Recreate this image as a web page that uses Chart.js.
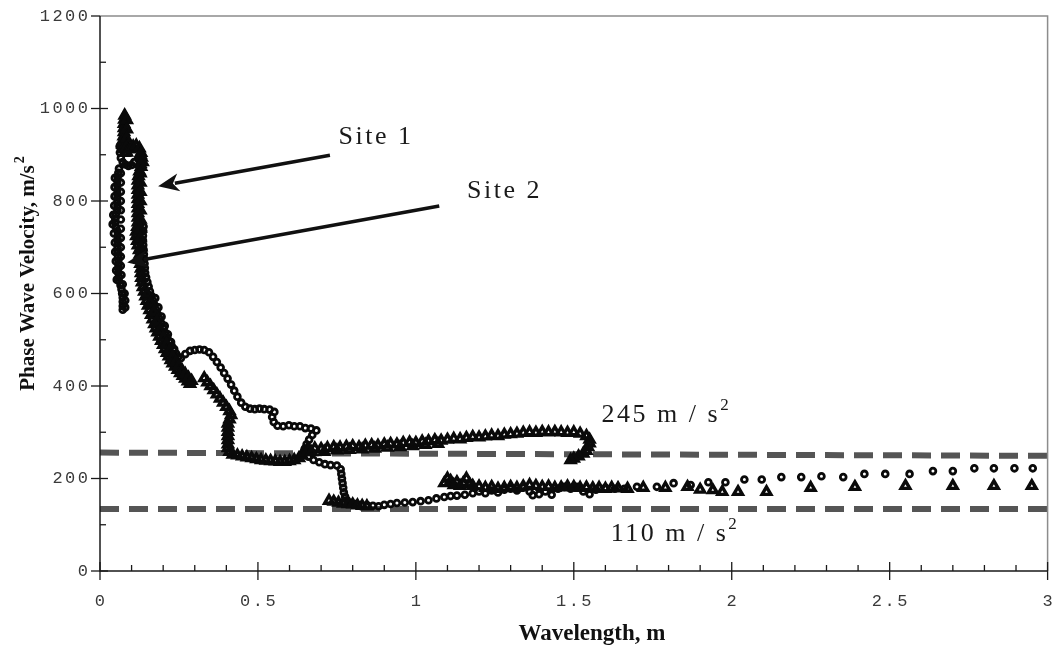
<!DOCTYPE html>
<html>
<head>
<meta charset="utf-8">
<script src="https://cdn.jsdelivr.net/npm/chart.js@4.4.1/dist/chart.umd.min.js"></script>
<style>
  html, body { margin: 0; background: #fff; }
  #wrap { width: 1056px; height: 655px; }
</style>
</head>
<body>
<div id="wrap"><canvas id="chart"></canvas></div>
<script>
// wavelength (m), phase velocity (m/s)
const site1Points = [
  [0.078,985],[0.077,976],[0.076,967],[0.076,958],[0.076,949],[0.075,940],[0.073,931],[0.072,922],[0.074,913],[0.078,904],
  [0.085,975],[0.085,955],[0.084,935],[0.083,915],
  [0.085,905],[0.095,912],[0.105,918],[0.115,920],[0.125,914],[0.13,904],[0.132,894],[0.135,884],[0.13,874],[0.125,864],
  [0.122,854],[0.12,844],[0.12,834],[0.12,824],[0.12,814],[0.12,804],[0.12,794],[0.12,784],[0.12,774],[0.12,764],
  [0.12,754],[0.118,744],[0.115,734],[0.115,724],[0.118,714],[0.12,704],[0.124,694],[0.126,684],[0.127,674],[0.128,664],
  [0.128,900],[0.128,880],[0.128,860],[0.128,840],[0.128,820],[0.128,800],[0.128,780],[0.128,760],[0.128,740],[0.128,720],[0.13,700],
  [0.13,654],[0.13,644],[0.131,634],[0.133,624],[0.136,614],[0.14,604],[0.144,594],[0.148,584],[0.152,574],[0.157,564],
  [0.162,554],[0.167,544],[0.172,534],[0.177,525],[0.182,516],[0.188,507],[0.194,498],[0.2,489],[0.206,480],[0.212,472],
  [0.218,464],[0.224,456],[0.23,449],[0.238,442],[0.246,435],[0.254,428],[0.262,422],[0.27,416],[0.278,410],[0.285,405],
  [0.15,600],[0.16,580],[0.17,560],[0.18,540],[0.19,520],[0.2,505],[0.21,490],[0.22,476],[0.23,463],[0.24,452],
  [0.25,443],[0.26,434],[0.27,426],[0.28,418],[0.29,411],
  [0.33,417],[0.34,408],[0.35,400],[0.36,391],[0.37,382],[0.38,373],[0.39,364],[0.4,355],[0.41,346],[0.415,337],
  [0.41,328],[0.405,319],[0.405,310],[0.405,301],[0.405,292],[0.405,283],[0.405,274],[0.405,266],[0.41,258],[0.42,252],
  [0.435,250],[0.45,248],[0.465,246],[0.48,244],[0.495,242],[0.51,240],[0.525,239],[0.54,238],[0.555,237],[0.57,236],
  [0.585,236],[0.6,238],[0.615,240],[0.63,244],[0.64,250],[0.645,258],[0.655,262],
  [0.66,263],[0.68,265],[0.70,264],[0.72,266],[0.74,268],[0.76,267],[0.78,269],[0.80,270],[0.82,268],[0.84,271],
  [0.86,272],[0.88,271],[0.90,274],[0.92,275],[0.94,274],[0.96,277],[0.98,278],[1.00,277],[1.02,280],[1.04,281],
  [1.06,283],[1.08,282],[1.10,284],[1.12,286],[1.14,285],[1.16,288],[1.18,290],[1.20,289],[1.22,291],[1.24,293],
  [1.26,292],[1.28,295],[1.30,296],[1.32,297],[1.34,299],[1.36,300],[1.38,299],[1.40,301],[1.42,300],[1.44,301],
  [1.46,300],[1.48,299],[1.50,300],[1.52,297],[1.54,292],[1.55,284],[1.55,276],[1.545,268],[1.54,260],[1.53,254],
  [1.515,248],[1.50,243],[1.49,240],
  [0.67,257],[0.71,258],[0.75,261],[0.79,262],[0.83,263],[0.87,265],[0.91,267],[0.95,268],[0.99,270],[1.03,273],[1.07,275],
  [0.725,152],[0.74,150],[0.755,148],[0.77,146],[0.785,145],[0.8,144],[0.815,142],[0.83,141],[0.845,140],
  [1.09,190],[1.1,200],[1.11,195],[1.12,186],[1.13,192],[1.14,184],[1.15,190],[1.16,200],[1.17,188],[1.18,184],
  [1.2,183],[1.22,180],[1.24,182],[1.26,178],[1.28,180],[1.3,182],[1.32,180],[1.34,183],[1.36,186],[1.38,184],
  [1.4,182],[1.42,183],[1.44,180],[1.46,181],[1.48,183],[1.5,182],[1.52,180],[1.54,181],[1.56,179],[1.58,180],
  [1.6,178],[1.62,180],[1.64,179],[1.67,178],[1.72,180],[1.79,180],[1.86,182],[1.9,176],[1.94,175],[1.97,171],
  [2.02,171],[2.11,171],[2.25,180],[2.39,182],[2.55,184],[2.7,184],[2.83,184],[2.95,184]
];

const site2Points = [
  [0.06,870],[0.058,861],[0.056,852],[0.055,843],[0.055,834],[0.055,825],[0.055,816],[0.055,807],[0.055,798],[0.055,789],
  [0.055,780],[0.05,771],[0.048,762],[0.048,753],[0.05,744],[0.055,735],[0.056,726],[0.056,717],[0.056,708],[0.056,699],
  [0.056,690],[0.057,681],[0.058,672],[0.058,663],[0.058,654],[0.058,645],[0.06,636],[0.06,627],[0.065,618],[0.068,609],
  [0.07,600],[0.072,591],[0.072,582],[0.072,573],[0.072,565],
  [0.066,860],[0.066,840],[0.066,820],[0.066,800],[0.066,780],[0.066,760],[0.066,740],[0.066,720],[0.066,700],[0.066,680],
  [0.066,660],[0.068,640],[0.072,620],[0.078,600],[0.08,585],[0.08,570],
  [0.047,850],[0.046,830],[0.046,810],[0.045,790],[0.042,770],[0.04,750],[0.044,730],[0.047,710],[0.048,690],[0.05,670],
  [0.051,650],[0.053,630],
  [0.062,918],[0.063,905],[0.066,893],[0.072,884],[0.08,879],[0.09,876],[0.1,878],[0.108,884],
  [0.138,745],[0.137,735],[0.136,725],[0.136,715],[0.137,705],[0.138,695],[0.139,685],[0.14,675],[0.141,665],[0.142,655],
  [0.143,645],[0.146,635],[0.15,625],[0.154,615],[0.158,605],[0.163,595],[0.168,585],[0.173,575],[0.178,565],[0.183,555],
  [0.189,545],[0.195,535],[0.201,525],[0.207,515],[0.213,505],[0.22,496],[0.227,487],[0.234,478],[0.241,470],[0.248,463],
  [0.175,590],[0.185,570],[0.195,550],[0.205,530],[0.215,512],[0.225,495],[0.235,480],
  [0.256,460],[0.27,469],[0.285,476],[0.3,478],[0.315,479],[0.33,478],[0.345,473],[0.358,463],[0.37,452],[0.382,440],
  [0.393,428],[0.404,416],[0.415,403],[0.425,390],[0.435,377],[0.447,364],[0.46,355],[0.475,351],[0.49,350],[0.505,351],
  [0.52,350],[0.537,349],[0.552,344],[0.545,333],[0.55,322],[0.562,314],[0.58,313],[0.598,315],[0.615,313],[0.633,313],
  [0.65,309],[0.668,308],[0.685,304],[0.672,294],[0.662,284],[0.654,274],[0.648,264],[0.646,255],[0.66,247],[0.676,240],
  [0.694,235],[0.712,231],[0.73,229],[0.75,228],[0.762,220],[0.764,210],[0.766,200],[0.768,190],[0.77,180],[0.772,170],
  [0.776,161],[0.782,153],[0.795,147],[0.81,145],[0.828,143],[0.846,142],[0.864,141],[0.882,140],[0.9,143],[0.92,145],
  [0.94,147],[0.965,148],[0.99,149],[1.015,151],[1.04,153],[1.065,157],[1.09,160],[1.11,162],[1.13,163],[1.155,165],
  [1.18,168],[1.2,172],[1.22,168],[1.24,174],[1.26,170],[1.28,176],[1.3,178],[1.32,174],[1.34,180],[1.36,172],
  [1.37,164],[1.39,166],[1.41,172],[1.43,165],[1.45,178],[1.47,182],[1.49,178],[1.51,182],[1.53,172],[1.55,166],
  [1.57,176],[1.6,180],[1.63,178],[1.66,178],[1.7,182],[1.763,182],[1.816,190],[1.87,186],[1.926,192],[1.98,192],
  [2.04,198],[2.095,198],[2.157,203],[2.22,203],[2.284,205],[2.353,203],[2.42,210],[2.486,210],[2.563,210],[2.637,216],
  [2.7,216],[2.768,222],[2.83,222],[2.895,222],[2.953,222]
];

// the two dashed reference levels as drawn
const upperLevel = [[0, 256], [3, 249]];
const lowerLevel = [[0, 134], [3, 134]];

const xTicks = [0, 0.5, 1, 1.5, 2, 2.5, 3];
const xTickLabels = ['0', '0.5', '1', '1.5', '2', '2.5', '3'];
const yTicks = [0, 200, 400, 600, 800, 1000, 1200];
const yTickLabels = ['0', '200', '400', '600', '800', '1000', '1200'];

// text notes and arrows, in data units
const notes = [
  { text: 'Site 1', sup: '', x: 0.755, y: 923 },
  { text: 'Site 2', sup: '', x: 1.162, y: 806 },
  { text: '245 m / s', sup: '2', x: 1.588, y: 323 },
  { text: '110 m / s', sup: '2', x: 1.617, y: 65 }
];
const arrows = [
  { from: [0.728, 899], to: [0.184, 832] },
  { from: [1.074, 789], to: [0.086, 667] }
];

const toXY = pts => pts.map(p => ({ x: p[0], y: p[1] }));

const SERIF = '"Liberation Serif", "DejaVu Serif", serif';
const MONO = '"Liberation Mono", "DejaVu Sans Mono", monospace';

function seg(ctx, x1, y1, x2, y2) {
  ctx.beginPath(); ctx.moveTo(x1, y1); ctx.lineTo(x2, y2); ctx.stroke();
}

const frame = {
  id: 'frame',
  afterDatasetsDraw(chart) {
    const { ctx, chartArea: a, scales: { x, y } } = chart;
    ctx.save();

    // box
    ctx.lineWidth = 1.5;
    ctx.strokeStyle = '#8c8c8c';
    ctx.beginPath(); ctx.moveTo(a.left, a.top); ctx.lineTo(a.right, a.top); ctx.lineTo(a.right, a.bottom); ctx.stroke();
    ctx.strokeStyle = '#1a1a1a';
    ctx.beginPath(); ctx.moveTo(a.left, a.top); ctx.lineTo(a.left, a.bottom); ctx.lineTo(a.right, a.bottom); ctx.stroke();

    // ticks
    ctx.lineWidth = 1.3;
    for (let v = 100; v < 1200; v += 200) {
      const p = y.getPixelForValue(v);
      seg(ctx, a.left, p, a.left + 6, p);
    }
    for (let i = 1; i < 30; i++) {
      if (i % 5 === 0) continue;
      const p = x.getPixelForValue(i / 10);
      seg(ctx, p, a.bottom, p, a.bottom - 6);
    }
    yTicks.forEach(v => {
      const p = y.getPixelForValue(v);
      seg(ctx, a.left - 9, p, a.left + (v === 1200 ? 0 : 8), p);
    });
    xTicks.forEach(v => {
      const p = x.getPixelForValue(v);
      seg(ctx, p, a.bottom + 9, p, a.bottom - 9);
    });

    // tick labels
    ctx.fillStyle = '#3a3a3a';
    ctx.font = '17px ' + MONO;
    ctx.letterSpacing = '2.5px';
    ctx.textBaseline = 'middle';
    ctx.textAlign = 'right';
    yTicks.forEach((v, i) => ctx.fillText(yTickLabels[i], a.left - 12 + 2.5, y.getPixelForValue(v)));
    ctx.textAlign = 'center';
    xTicks.forEach((v, i) => ctx.fillText(xTickLabels[i], x.getPixelForValue(v) + 1.2, a.bottom + 30));
    ctx.letterSpacing = '0px';

    // axis titles
    ctx.fillStyle = '#111';
    ctx.font = 'bold 23px ' + SERIF;
    ctx.textAlign = 'center';
    ctx.textBaseline = 'alphabetic';
    ctx.fillText('Wavelength, m', 592, 640);

    ctx.save();
    ctx.translate(34, 273);
    ctx.rotate(-Math.PI / 2);
    ctx.font = 'bold 21px ' + SERIF;
    const main = 'Phase Wave Velocity, m/s';
    const w = ctx.measureText(main).width;
    ctx.textAlign = 'left';
    ctx.fillText(main, -w / 2 - 5, 0);
    ctx.font = 'bold 14px ' + SERIF;
    ctx.fillText('2', w / 2 - 3, -10);
    ctx.restore();

    // notes
    ctx.fillStyle = '#1a1a1a';
    ctx.textAlign = 'left';
    notes.forEach(n => {
      const px = x.getPixelForValue(n.x), py = y.getPixelForValue(n.y);
      ctx.font = '26px ' + SERIF;
      ctx.letterSpacing = '2.5px';
      ctx.fillText(n.text, px, py);
      if (n.sup) {
        const tw = ctx.measureText(n.text).width;
        ctx.font = '17px ' + SERIF;
        ctx.letterSpacing = '0px';
        ctx.fillText(n.sup, px + tw, py - 12);
      }
    });
    ctx.letterSpacing = '0px';

    // arrows
    ctx.strokeStyle = '#111';
    ctx.fillStyle = '#111';
    ctx.lineWidth = 3.5;
    arrows.forEach(ar => {
      const x1 = x.getPixelForValue(ar.from[0]), y1 = y.getPixelForValue(ar.from[1]);
      const x2 = x.getPixelForValue(ar.to[0]), y2 = y.getPixelForValue(ar.to[1]);
      const ang = Math.atan2(y2 - y1, x2 - x1);
      const len = 21, half = 9;
      const bx = x2 - Math.cos(ang) * len, by = y2 - Math.sin(ang) * len;
      seg(ctx, x1, y1, x2 - Math.cos(ang) * (len - 4), y2 - Math.sin(ang) * (len - 4));
      ctx.beginPath();
      ctx.moveTo(x2, y2);
      ctx.lineTo(bx + Math.sin(ang) * half, by - Math.cos(ang) * half);
      ctx.lineTo(x2 - Math.cos(ang) * (len - 6), y2 - Math.sin(ang) * (len - 6));
      ctx.lineTo(bx - Math.sin(ang) * half, by + Math.cos(ang) * half);
      ctx.closePath();
      ctx.fill();
    });

    ctx.restore();
  }
};

new Chart(document.getElementById('chart'), {
  type: 'scatter',
  data: {
    datasets: [
      {
        label: 'Site 1',
        data: toXY(site1Points),
        pointStyle: 'triangle',
        pointRadius: 5,
        pointBorderWidth: 3.4,
        pointBorderColor: '#0a0a0a',
        pointBackgroundColor: 'rgba(255,255,255,0)'
      },
      {
        label: 'Site 2',
        data: toXY(site2Points),
        pointStyle: 'circle',
        pointRadius: 2.9,
        pointBorderWidth: 2.8,
        pointBorderColor: '#0a0a0a',
        pointBackgroundColor: 'rgba(255,255,255,0)'
      },
      {
        label: '245 m/s2',
        data: toXY(upperLevel),
        showLine: true,
        borderColor: '#555',
        borderWidth: 6,
        borderDash: [19, 10],
        borderCapStyle: 'butt',
        pointRadius: 0
      },
      {
        label: '110 m/s2',
        data: toXY(lowerLevel),
        showLine: true,
        borderColor: '#555',
        borderWidth: 6,
        borderDash: [19, 10],
        borderCapStyle: 'butt',
        pointRadius: 0
      }
    ]
  },
  options: {
    responsive: true,
    maintainAspectRatio: false,
    animation: false,
    events: [],
    layout: { padding: { left: 100, right: 6, top: 16, bottom: 84 } },
    plugins: { legend: { display: false }, tooltip: { enabled: false } },
    scales: {
      x: { type: 'linear', min: 0, max: 3, display: false },
      y: { type: 'linear', min: 0, max: 1200, display: false }
    }
  },
  plugins: [frame]
});
</script>
</body>
</html>
